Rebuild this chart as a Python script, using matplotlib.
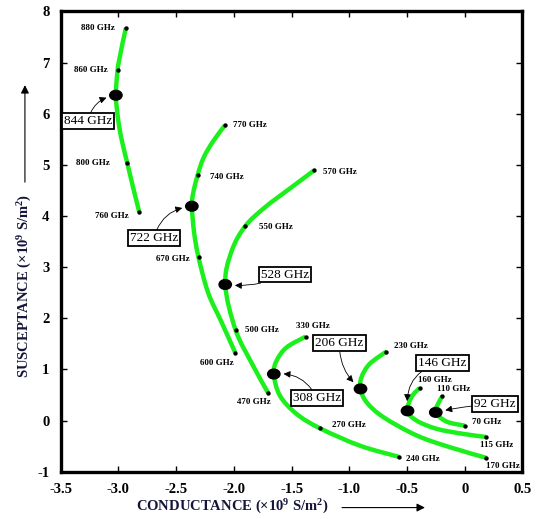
import numpy as np
import matplotlib
matplotlib.use("Agg")
import matplotlib.pyplot as plt
from matplotlib.path import Path
from matplotlib.patches import PathPatch, Ellipse, FancyArrowPatch

plt.rcParams['font.family'] = ['Liberation Serif', 'DejaVu Serif']
plt.rcParams['mathtext.fontset'] = 'custom'
plt.rcParams['mathtext.default'] = 'regular'

# conductance (G) / susceptance (B) traces, x10^9 S/m^2
g_760_880 = [-2.935, -2.964, -2.993, -3.007, -3.022, -3.002, -2.972, -2.924, -2.872, -2.820]
b_760_880 = [7.68, 7.38, 7.05, 6.86, 6.36, 5.88, 5.49, 5.04, 4.55, 4.08]

g_600_770 = [-2.078, -2.180, -2.262, -2.314, -2.352, -2.364, -2.344, -2.306, -2.223, -2.106, -1.989]
b_600_770 = [5.77, 5.46, 5.14, 4.80, 4.45, 4.19, 3.67, 3.19, 2.50, 1.92, 1.33]

g_470_570 = [-1.305, -1.525, -1.730, -1.902, -2.020, -2.075, -1.985, -1.833, -1.703]
b_470_570 = [4.89, 4.52, 4.17, 3.80, 3.31, 2.66, 1.77, 1.07, 0.54]

g_240_330 = [-1.379, -1.544, -1.630, -1.654, -1.602, -1.457, -1.255, -0.909, -0.569]
b_240_330 = [1.64, 1.43, 1.17, 0.91, 0.49, 0.13, -0.15, -0.49, -0.71]

g_170_230 = [-0.678, -0.823, -0.894, -0.903, -0.851, -0.707, -0.418, -0.130, 0.188]
b_170_230 = [1.35, 1.11, 0.85, 0.62, 0.36, 0.07, -0.29, -0.52, -0.73]

g_115_160 = [-0.390, -0.461, -0.496, -0.418, -0.245, -0.015, 0.182]
b_115_160 = [0.64, 0.46, 0.19, 0.00, -0.16, -0.26, -0.32]

g_70_110 = [-0.193, -0.231, -0.251, -0.158, 0.0]
b_70_110 = [0.48, 0.33, 0.16, -0.02, -0.10]

# marked frequencies (GHz) on the traces
dot_freqs = [880, 860, 800, 760, 770, 740, 670, 600, 570, 550, 500, 470,
             330, 270, 240, 230, 170, 160, 115, 110, 70]
dot_g = [-2.935, -3.007, -2.924, -2.820, -2.078, -2.314, -2.306, -1.989,
         -1.305, -1.902, -1.985, -1.703, -1.379, -1.255, -0.569, -0.678,
         0.188, -0.390, 0.182, -0.193, 0.0]
dot_b = [7.68, 6.86, 5.04, 4.08, 5.77, 4.80, 3.19, 1.33, 4.89, 3.80, 1.77,
         0.54, 1.64, -0.15, -0.71, 1.35, -0.73, 0.64, -0.32, 0.48, -0.10]

# resonance frequencies (GHz)
res_freqs = [844, 722, 528, 308, 206, 146, 92]
res_g = [-3.022, -2.364, -2.075, -1.654, -0.903, -0.496, -0.251]
res_b = [6.36, 4.19, 2.66, 0.91, 0.62, 0.19, 0.16]

x_ticks = [-3.5, -3.0, -2.5, -2.0, -1.5, -1.0, -0.5, 0, 0.5]
x_ticklabels = ['-3.5', '-3.0', '-2.5', '-2.0', '-1.5', '-1.0', '-0.5', '0', '0.5']
y_ticks = [-1, 0, 1, 2, 3, 4, 5, 6, 7, 8]
y_ticklabels = ['-1', '0', '1', '2', '3', '4', '5', '6', '7', '8']

# label offsets in pixels from the marker
dot_offsets = {880: (-28, 0), 860: (-27, 0), 800: (-34, 0), 760: (-27, -4),
               770: (25, 0), 740: (29, -2), 670: (-26, -2), 600: (-18, -10),
               570: (26, -2), 550: (31, -1), 500: (26, 0), 470: (-14, -9),
               330: (7, 11), 270: (29, 3), 240: (24, -2), 230: (24, 6),
               170: (16, -8), 160: (15, 8), 115: (11, -8), 110: (11, 7),
               70: (22, 4)}
res_offsets = {844: (-28, -26, -0.35), 722: (-38, -32, -0.35), 528: (60, 10, -0.15),
               308: (43, -24, 0.35), 206: (-21, 46, 0.25), 146: (35, 48, 0.45),
               92: (59, 8, 0.05)}

GREEN = '#1cf01c'
NAVY = '#15153a'


def smooth_path(xs, ys):
    # catmull-rom through the read points, handed to matplotlib as bezier segments
    p = np.column_stack([xs, ys])
    n = len(p)
    verts = [p[0]]
    codes = [Path.MOVETO]
    for i in range(n - 1):
        p0 = p[i - 1] if i > 0 else p[i]
        p3 = p[i + 2] if i + 2 < n else p[i + 1]
        verts += [p[i] + (p[i + 1] - p0) / 6, p[i + 1] - (p3 - p[i]) / 6, p[i + 1]]
        codes += [Path.CURVE4] * 3
    return Path(verts, codes)


fig = plt.figure(figsize=(5.42, 5.19), dpi=100)
ax = fig.add_axes([0.112, 0.0911, 0.852, 0.887])
ax.set_xlim(-3.5, 0.5)
ax.set_ylim(-1, 8)

traces = [(g_760_880, b_760_880), (g_600_770, b_600_770), (g_470_570, b_470_570),
          (g_240_330, b_240_330), (g_170_230, b_170_230), (g_115_160, b_115_160),
          (g_70_110, b_70_110)]
for g, b in traces:
    ax.add_patch(PathPatch(smooth_path(g, b), fill=False, ec=GREEN, lw=3.2,
                           capstyle='butt', zorder=2))

ax.scatter(dot_g, dot_b, s=10, color='black', zorder=4, linewidths=0)
for f, g, b in zip(dot_freqs, dot_g, dot_b):
    dx, dy = dot_offsets[f]
    ax.annotate(f'{f} GHz', (g, b), xytext=(dx, dy), textcoords='offset pixels',
                ha='center', va='center', fontsize=6.5, fontweight='bold', zorder=5)

for f, g, b in zip(res_freqs, res_g, res_b):
    ax.add_patch(Ellipse((g, b), 0.107, 0.19, color='black', zorder=4))
    dx, dy, rad = res_offsets[f]
    ax.annotate(f'{f} GHz', (g, b), xytext=(dx, dy), textcoords='offset pixels',
                ha='center', va='center', fontsize=9.5, zorder=6,
                bbox=dict(boxstyle='square,pad=0.15', fc='white', ec='black', lw=1.3),
                arrowprops=dict(arrowstyle='-|>', color='black', lw=0.6, shrinkA=0,
                                shrinkB=7, mutation_scale=10,
                                connectionstyle=f'arc3,rad={rad}'))

ax.set_xticks(x_ticks)
ax.set_xticklabels(x_ticklabels)
ax.set_yticks(y_ticks)
ax.set_yticklabels(y_ticklabels)
ax.tick_params(direction='in', length=4, width=1, top=True, right=True,
               labelsize=10.5, pad=8)
for lab in ax.get_xticklabels() + ax.get_yticklabels():
    lab.set_fontweight('bold')
for sp in ax.spines.values():
    sp.set_linewidth(2.4)

fig.text(0.429, 0.024, 'CONDUCTANCE (×10$^9$ S/m$^2$)', ha='center', va='center',
         fontsize=10.5, fontweight='bold', color=NAVY)
fig.text(0.046, 0.449, 'SUSCEPTANCE (×10$^9$ S/m$^2$)', ha='center', va='center',
         rotation=90, fontsize=10.5, fontweight='bold', color=NAVY)
arrow = dict(arrowstyle='-|>', color='black', lw=0.8, mutation_scale=12, shrinkA=0, shrinkB=0)
fig.add_artist(FancyArrowPatch((0.631, 0.022), (0.784, 0.022),
                               transform=fig.transFigure, **arrow))
fig.add_artist(FancyArrowPatch((0.046, 0.649), (0.046, 0.836),
                               transform=fig.transFigure, **arrow))

fig.savefig('out.png', dpi=100)
